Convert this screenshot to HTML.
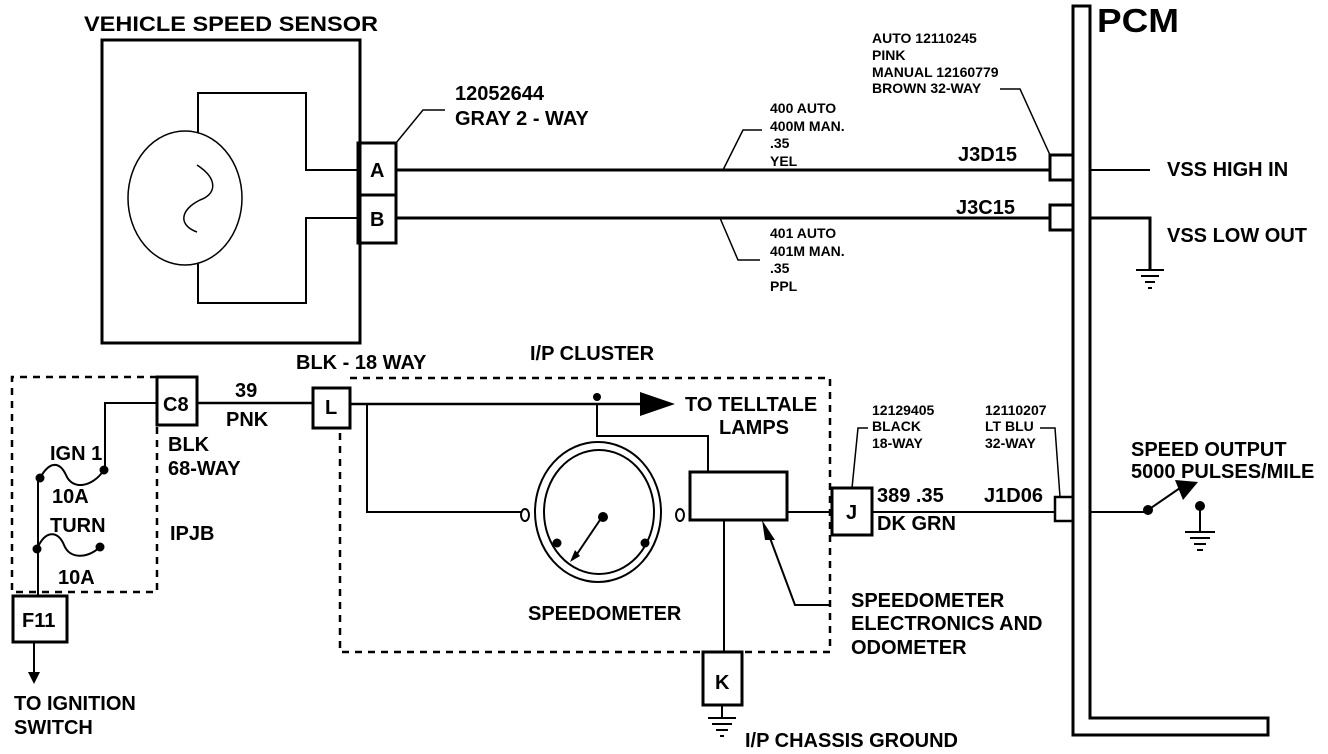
<!DOCTYPE html>
<html><head><meta charset="utf-8"><style>
html,body{margin:0;padding:0;background:#fff}
svg{display:block}
text{font-family:"Liberation Sans",Arial,sans-serif;font-weight:bold;fill:#000}
.s{font-size:14px}.m{font-size:20px}
</style></head><body>
<svg width="1328" height="754" viewBox="0 0 1328 754" xmlns="http://www.w3.org/2000/svg">
<g fill="none" stroke="#000" stroke-width="2">
<rect x="102" y="40" width="258" height="303" stroke-width="3"/>
<path d="M198 133 V93 H306 V170 H358"/>
<path d="M198 263 V303 H306 V218 H358"/>
<ellipse cx="185" cy="198" rx="57" ry="67" stroke-width="1.5"/>
<path d="M197 165 C220 180,215 195,200 200 C180 210,178 225,197 232" stroke-width="1.5"/>
<rect x="358" y="143" width="38" height="100" stroke-width="3"/>
<line x1="358" y1="195" x2="396" y2="195" stroke-width="3"/>
<path d="M396 143 L423 110 H445" stroke-width="1.5"/>
<line x1="396" y1="170" x2="1050" y2="170" stroke-width="3"/>
<line x1="396" y1="218" x2="1050" y2="218" stroke-width="3"/>
<path d="M723 170 L743 130 H762" stroke-width="1.5"/>
<path d="M720 218 L738 260 H760" stroke-width="1.5"/>
<path d="M1073 735 V6 H1090 V718 H1268 V735 Z" stroke-width="3"/>
<rect x="1050" y="155" width="23" height="25" stroke-width="3"/>
<rect x="1050" y="205" width="23" height="25" stroke-width="3"/>
<path d="M1000 89 H1020 L1050 155" stroke-width="1.5"/>
<line x1="1090" y1="170" x2="1150" y2="170"/>
<path d="M1090 218 H1150 V270" stroke-width="3"/>
<path d="M1136 270 H1164 M1141 276 H1159 M1145 282 H1155 M1148 288 H1152" stroke-width="2"/>
<path d="M157 377 H12 V592 H157 V425" stroke-dasharray="7 6" stroke-width="2.5"/>
<rect x="157" y="377" width="40" height="48" stroke-width="3"/>
<path d="M157 403 H105 V470" />
<path d="M40 478 C50 460,60 462,66 475 C72 490,92 488,104 470" />
<path d="M37 549 C45 530,58 530,64 545 C70 560,88 558,100 547" />
<path d="M38 478 V596"/>
<rect x="13" y="596" width="54" height="46" stroke-width="3"/>
<line x1="34" y1="642" x2="34" y2="675"/>
<line x1="197" y1="403" x2="313" y2="403" stroke-width="2.5"/>
<rect x="313" y="388" width="37" height="40" stroke-width="3"/>
<path d="M350 378 H830 V652 H340 V428" stroke-dasharray="7 6" stroke-width="2.5"/>
<line x1="350" y1="404" x2="645" y2="404" stroke-width="2.5"/>
<path d="M597 404 V436 H708 V472"/>
<path d="M367 404 V512 H521"/>
<ellipse cx="598" cy="512" rx="63" ry="70"/>
<ellipse cx="599" cy="512" rx="55" ry="62"/>
<ellipse cx="525" cy="515" rx="4" ry="6"/>
<ellipse cx="680" cy="515" rx="4" ry="6"/>
<line x1="602" y1="517" x2="575" y2="557"/>
<rect x="690" y="472" width="97" height="48" stroke-width="3"/>
<line x1="787" y1="512" x2="832" y2="512"/>
<line x1="724" y1="520" x2="724" y2="652"/>
<path d="M767 530 L795 605 H830"/>
<rect x="832" y="488" width="40" height="47" stroke-width="3"/>
<path d="M852 488 L858 428 H868" stroke-width="1.5"/>
<line x1="872" y1="512" x2="1055" y2="512"/>
<rect x="1055" y="497" width="18" height="24" stroke-width="2.5"/>
<path d="M1040 428 H1055 L1060 497" stroke-width="1.5"/>
<line x1="1090" y1="512" x2="1148" y2="512"/>
<line x1="1148" y1="510" x2="1180" y2="488"/>
<line x1="1200" y1="506" x2="1200" y2="532"/>
<path d="M1185 532 H1215 M1190 538 H1210 M1194 544 H1206 M1197 550 H1203"/>
<rect x="703" y="652" width="39" height="53" stroke-width="3"/>
<line x1="722" y1="705" x2="722" y2="718"/>
<path d="M708 718 H736 M712 724 H732 M716 730 H728 M720 736 H724"/>
</g>
<g fill="#000">
<circle cx="104" cy="470" r="4.5"/><circle cx="40" cy="478" r="4.5"/>
<circle cx="37" cy="549" r="4.5"/><circle cx="100" cy="547" r="4.5"/>
<path d="M28 672 H40 L34 684 Z"/>
<circle cx="597" cy="397" r="4"/>
<path d="M640 392 L675 404 L640 416 Z"/>
<circle cx="603" cy="517" r="5"/><circle cx="557" cy="543" r="4.5"/><circle cx="645" cy="543" r="4.5"/>
<path d="M570 562 L575 550 L580 556 Z"/>
<path d="M762 520 L775 540 L765 540 Z"/>
<circle cx="1148" cy="510" r="5"/><circle cx="1200" cy="506" r="5"/>
<path d="M1175 480 L1198 482 L1183 500 Z"/>
</g>
<text x="84" y="31" font-size="21" textLength="294" lengthAdjust="spacingAndGlyphs">VEHICLE SPEED SENSOR</text>
<text x="455" y="100" class="m">12052644</text>
<text x="455" y="125" class="m">GRAY 2 - WAY</text>
<text x="1097" y="32" font-size="33" textLength="82" lengthAdjust="spacingAndGlyphs">PCM</text>
<g class="s">
<text x="872" y="43">AUTO 12110245</text>
<text x="872" y="60">PINK</text>
<text x="872" y="77">MANUAL 12160779</text>
<text x="872" y="93">BROWN  32-WAY</text>
<text x="770" y="113">400 AUTO</text>
<text x="770" y="131">400M MAN.</text>
<text x="770" y="148">.35</text>
<text x="770" y="166">YEL</text>
<text x="770" y="238">401 AUTO</text>
<text x="770" y="256">401M MAN.</text>
<text x="770" y="273">.35</text>
<text x="770" y="291">PPL</text>
<text x="872" y="415">12129405</text>
<text x="872" y="431">BLACK</text>
<text x="872" y="448">18-WAY</text>
<text x="985" y="415">12110207</text>
<text x="985" y="431">LT BLU</text>
<text x="985" y="448">32-WAY</text>
</g>
<g class="m">
<text x="370" y="177">A</text>
<text x="370" y="226">B</text>
<text x="958" y="161">J3D15</text>
<text x="956" y="214">J3C15</text>
<text x="1167" y="176">VSS HIGH IN</text>
<text x="1167" y="242">VSS LOW OUT</text>
<text x="296" y="369">BLK - 18 WAY</text>
<text x="530" y="360">I/P CLUSTER</text>
<text x="235" y="397">39</text>
<text x="226" y="426">PNK</text>
<text x="163" y="411">C8</text>
<text x="325" y="414">L</text>
<text x="168" y="451">BLK</text>
<text x="168" y="475">68-WAY</text>
<text x="50" y="460">IGN 1</text>
<text x="52" y="503">10A</text>
<text x="50" y="532">TURN</text>
<text x="58" y="584">10A</text>
<text x="170" y="540">IPJB</text>
<text x="22" y="627">F11</text>
<text x="14" y="710">TO IGNITION</text>
<text x="14" y="734">SWITCH</text>
<text x="685" y="411">TO TELLTALE</text>
<text x="719" y="434">LAMPS</text>
<text x="528" y="620">SPEEDOMETER</text>
<text x="846" y="519">J</text>
<text x="877" y="502">389 .35</text>
<text x="877" y="530">DK GRN</text>
<text x="984" y="502">J1D06</text>
<text x="1131" y="456">SPEED OUTPUT</text>
<text x="1131" y="478">5000 PULSES/MILE</text>
<text x="851" y="607">SPEEDOMETER</text>
<text x="851" y="630">ELECTRONICS AND</text>
<text x="851" y="654">ODOMETER</text>
<text x="715" y="689">K</text>
<text x="745" y="747">I/P CHASSIS GROUND</text>
</g>
</svg>
</body></html>
